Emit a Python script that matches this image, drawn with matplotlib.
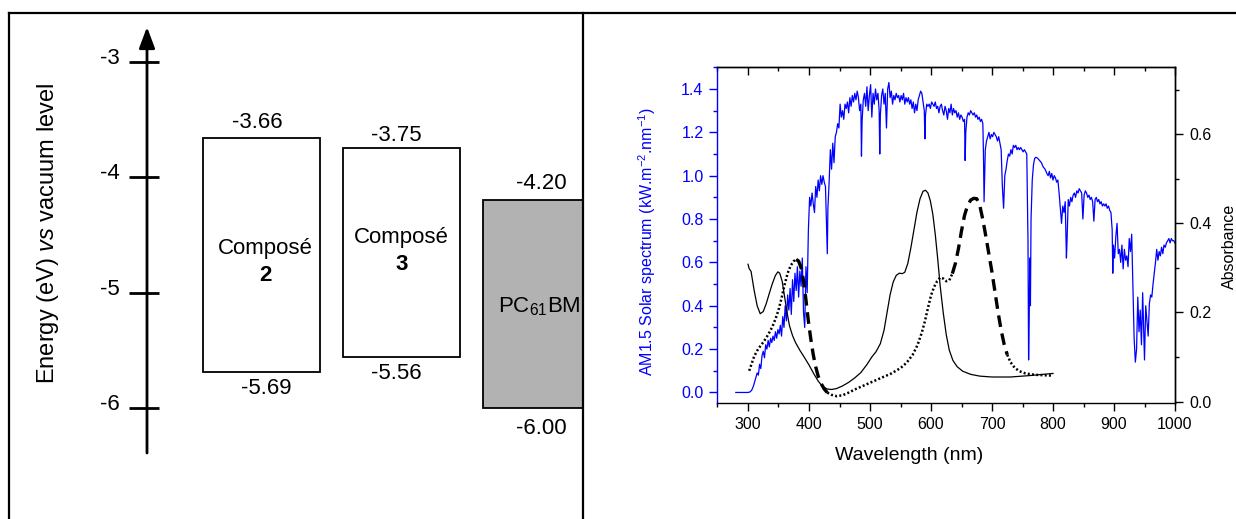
import matplotlib
matplotlib.use('Agg')
import matplotlib.pyplot as plt
from matplotlib.lines import Line2D
from matplotlib.ticker import MultipleLocator, FormatStrFormatter
import numpy as np

plt.rcParams['font.family'] = ['Liberation Sans', 'DejaVu Sans']
plt.rcParams['mathtext.fontset'] = 'custom'
plt.rcParams['mathtext.rm'] = 'Liberation Sans'
plt.rcParams['mathtext.it'] = 'Liberation Sans:italic'
plt.rcParams['mathtext.bf'] = 'Liberation Sans:bold'

# ---------------- data: energy diagram ----------------
material_names = ['Composé', 'Composé', 'PC$_{61}$BM']
material_numbers = ['2', '3', '']
lumo = [-3.66, -3.75, -4.20]
homo = [-5.69, -5.56, -6.00]
box_colors = ['white', 'white', '#b2b2b2']
energy_ticks = [-3, -4, -5, -6]

# ---------------- data: AM1.5 solar spectrum ----------------
solar_nm = [280, 290, 300, 303, 306, 309, 312, 315, 317, 319, 321, 323, 325, 327, 329, 331, 333, 335, 337, 339,
            341, 343, 345, 347, 349, 351, 353, 355, 357, 359, 361, 363, 365, 367, 369, 371, 373, 375, 377, 379,
            381, 383, 385, 387, 389, 391, 393, 395, 397, 399, 401, 403, 405, 407, 409, 411, 413, 415, 417, 419,
            421, 423, 425, 427, 429, 430, 431, 433, 435, 437, 439, 441, 443, 445, 447, 449, 451, 453, 455, 457,
            459, 461, 463, 465, 467, 469, 471, 473, 475, 477, 479, 481, 483, 485, 486, 487, 489, 491, 493, 495,
            497, 499, 501, 503, 505, 507, 509, 511, 513, 515, 516, 517, 519, 521, 523, 525, 527, 529, 531, 533,
            535, 537, 539, 541, 543, 545, 547, 549, 551, 553, 555, 557, 559, 561, 563, 565, 567, 569, 571, 573,
            575, 577, 579, 581, 583, 585, 587, 589, 590, 591, 593, 595, 597, 599, 601, 603, 605, 607, 609, 611,
            613, 615, 617, 619, 621, 623, 625, 627, 629, 631, 633, 635, 637, 639, 641, 643, 645, 647, 649, 651,
            653, 655, 656, 657, 659, 661, 663, 665, 667, 669, 671, 673, 675, 677, 679, 681, 683, 685, 686, 687,
            688, 689, 691, 693, 695, 697, 699, 701, 703, 705, 707, 709, 711, 713, 715, 717, 719, 721, 723, 725,
            727, 729, 731, 733, 735, 737, 739, 741, 743, 745, 747, 749, 751, 753, 755, 757, 759, 760, 761, 762,
            763, 764, 766, 768, 770, 772, 775, 778, 781, 784, 787, 790, 792, 794, 796, 798, 800, 802, 804, 806,
            808, 810, 812, 814, 816, 818, 820, 822, 823, 825, 827, 829, 831, 833, 835, 837, 839, 841, 843, 845,
            847, 849, 851, 853, 855, 857, 859, 861, 863, 865, 867, 869, 871, 873, 875, 877, 879, 881, 883, 885,
            887, 889, 891, 893, 895, 897, 898, 899, 901, 903, 905, 907, 909, 911, 913, 915, 917, 919, 921, 923,
            925, 927, 929, 931, 933, 935, 937, 939, 941, 943, 945, 947, 949, 950, 952, 954, 956, 958, 960, 962,
            964, 966, 968, 970, 972, 974, 976, 978, 980, 982, 984, 986, 988, 990, 992, 994, 996, 998, 1000]
solar_kw = [0.0, 0.0, 0.0, 0.002, 0.01, 0.03, 0.06, 0.09, 0.08, 0.13, 0.11, 0.17, 0.19, 0.16, 0.22, 0.20, 0.24, 0.21, 0.25, 0.23,
            0.26, 0.24, 0.28, 0.25, 0.29, 0.27, 0.31, 0.26, 0.35, 0.30, 0.40, 0.33, 0.45, 0.38, 0.48, 0.36, 0.52, 0.42, 0.55, 0.47,
            0.58, 0.44, 0.56, 0.49, 0.62, 0.37, 0.30, 0.58, 0.46, 0.75, 0.90, 0.86, 0.92, 0.87, 0.83, 0.95, 0.90, 0.98, 0.93, 1.00,
            0.96, 1.00, 0.97, 0.95, 0.75, 0.64, 0.85, 0.97, 1.12, 1.03, 1.15, 1.06, 1.18, 1.20, 1.24, 1.22, 1.33, 1.27, 1.30, 1.26,
            1.33, 1.31, 1.34, 1.29, 1.36, 1.32, 1.37, 1.34, 1.38, 1.35, 1.39, 1.36, 1.30, 1.33, 1.09, 1.25, 1.35, 1.38, 1.32, 1.41,
            1.30, 1.37, 1.42, 1.27, 1.38, 1.33, 1.40, 1.35, 1.38, 1.30, 1.10, 1.28, 1.37, 1.40, 1.33, 1.38, 1.22, 1.40, 1.43, 1.36,
            1.39, 1.33, 1.37, 1.35, 1.38, 1.36, 1.37, 1.34, 1.37, 1.35, 1.38, 1.33, 1.36, 1.34, 1.36, 1.33, 1.35, 1.31, 1.34, 1.29,
            1.33, 1.30, 1.35, 1.37, 1.39, 1.38, 1.34, 1.30, 1.17, 1.28, 1.33, 1.32, 1.33, 1.31, 1.34, 1.33, 1.32, 1.34, 1.31, 1.32,
            1.29, 1.32, 1.33, 1.30, 1.28, 1.32, 1.30, 1.26, 1.31, 1.29, 1.33, 1.28, 1.31, 1.29, 1.30, 1.27, 1.29, 1.26, 1.28, 1.27,
            1.25, 1.26, 1.07, 1.20, 1.27, 1.29, 1.28, 1.30, 1.29, 1.28, 1.29, 1.27, 1.28, 1.26, 1.27, 1.25, 1.26, 1.24, 1.10, 0.88,
            1.00, 1.12, 1.16, 1.18, 1.20, 1.17, 1.19, 1.18, 1.20, 1.19, 1.18, 1.16, 1.18, 1.15, 1.12, 0.95, 0.85, 1.00, 1.03, 1.07,
            1.10, 1.09, 1.12, 1.10, 1.14, 1.13, 1.14, 1.12, 1.13, 1.12, 1.13, 1.12, 1.11, 1.12, 1.11, 1.10, 0.70, 0.15, 0.35, 0.62,
            0.40, 0.80, 0.98, 1.05, 1.08, 1.085, 1.08, 1.07, 1.06, 1.04, 1.03, 1.01, 1.00, 1.02, 0.99, 1.01, 0.98, 1.00, 0.99, 0.97,
            0.98, 0.92, 0.85, 0.78, 0.86, 0.83, 0.88, 0.62, 0.70, 0.89, 0.86, 0.90, 0.88, 0.91, 0.92, 0.90, 0.93, 0.92, 0.94, 0.93,
            0.92, 0.80, 0.91, 0.93, 0.92, 0.90, 0.91, 0.89, 0.90, 0.88, 0.79, 0.89, 0.90, 0.88, 0.89, 0.87, 0.88, 0.86, 0.87, 0.86,
            0.87, 0.85, 0.86, 0.84, 0.83, 0.75, 0.55, 0.68, 0.62, 0.72, 0.78, 0.64, 0.66, 0.60, 0.68, 0.57, 0.66, 0.61, 0.63, 0.58,
            0.71, 0.65, 0.73, 0.50, 0.25, 0.14, 0.20, 0.44, 0.28, 0.38, 0.22, 0.46, 0.25, 0.15, 0.40, 0.33, 0.26, 0.41, 0.45, 0.44,
            0.50, 0.55, 0.60, 0.66, 0.61, 0.65, 0.63, 0.67, 0.64, 0.68, 0.67, 0.69, 0.70, 0.71, 0.69, 0.71, 0.70, 0.70, 0.69]

# ---------------- data: absorbance of compounds 2 and 3 ----------------
abs2_nm = [300, 302, 305, 310, 315, 320, 325, 330, 335, 340, 345, 349, 352, 356, 360, 364, 368, 373, 378, 385,
           392, 400, 408, 415, 422, 430, 437, 445, 455, 465, 475, 485, 495, 503, 510, 517, 523, 528, 533, 538,
           543, 548, 553, 557, 562, 567, 572, 577, 582, 587, 591, 595, 599, 603, 607, 611, 615, 620, 625, 630,
           636, 643, 652, 665, 680, 700, 730, 760, 800]
abs2 = [0.308, 0.298, 0.292, 0.250, 0.215, 0.197, 0.202, 0.220, 0.243, 0.265, 0.283, 0.291, 0.288, 0.270, 0.235, 0.200, 0.170, 0.148, 0.132, 0.115,
        0.100, 0.082, 0.062, 0.046, 0.034, 0.028, 0.027, 0.029, 0.035, 0.043, 0.053, 0.065, 0.083, 0.100, 0.112, 0.130, 0.160, 0.200, 0.240, 0.268,
        0.283, 0.288, 0.287, 0.290, 0.310, 0.345, 0.385, 0.425, 0.455, 0.472, 0.474, 0.468, 0.450, 0.420, 0.375, 0.320, 0.260, 0.200, 0.150, 0.115,
        0.092, 0.078, 0.068, 0.061, 0.057, 0.055, 0.055, 0.058, 0.063]

abs3_nm = [302, 306, 310, 315, 320, 325, 330, 335, 340, 345, 350, 355, 360, 365, 370, 375, 379, 383, 387, 391,
           395, 399, 403, 407, 411, 415, 420, 425, 430, 437, 445, 455, 465, 475, 490, 505, 520, 535, 550, 560,
           570, 578, 585, 590, 595, 600, 605, 610, 615, 620, 625, 630, 635, 640, 645, 650, 655, 660, 665, 670,
           675, 680, 685, 690, 695, 700, 705, 710, 715, 720, 725, 730, 737, 745, 755, 770, 785, 800]
abs3 = [0.069, 0.085, 0.101, 0.114, 0.124, 0.133, 0.143, 0.155, 0.168, 0.185, 0.205, 0.232, 0.262, 0.288, 0.305, 0.315, 0.319, 0.315, 0.300, 0.272,
        0.228, 0.180, 0.140, 0.105, 0.078, 0.057, 0.040, 0.028, 0.020, 0.015, 0.012, 0.014, 0.020, 0.027, 0.036, 0.045, 0.054, 0.063, 0.075, 0.087,
        0.105, 0.127, 0.155, 0.180, 0.210, 0.238, 0.257, 0.270, 0.278, 0.276, 0.270, 0.272, 0.287, 0.310, 0.343, 0.383, 0.418, 0.440, 0.452, 0.456,
        0.455, 0.440, 0.408, 0.370, 0.330, 0.290, 0.245, 0.200, 0.160, 0.128, 0.105, 0.089, 0.076, 0.068, 0.063, 0.060, 0.059, 0.058]
# wavelength windows where the dotted curve is rendered as long dashes
dash_windows = [(379, 425), (635, 720)]

# ---------------- figure ----------------
W, H = 1236, 519
fig = plt.figure(figsize=(W / 100, H / 100), dpi=100)

# --- left panel: energy diagram ---
px_per_ev = 115.5
y_m3 = 61.7          # pixel row of -3 eV
x0 = 261.5           # pixel column of first box centre
unit = 140.0         # pixels per box slot
axL = fig.add_axes([10 / W, 0, (583 - 10) / W, 1])
axL.set_xlim((10 - x0) / unit, (583 - x0) / unit)
axL.set_ylim(-3 - (H - y_m3) / px_per_ev, -3 + y_m3 / px_per_ev)
axL.axis('off')

pos = np.arange(len(lumo))
heights = [l - h for l, h in zip(lumo, homo)]
axL.bar(pos, heights, bottom=homo, width=117 / unit, color=box_colors,
        edgecolor='black', linewidth=1.3, zorder=2)

axis_x = (147 - x0) / unit
y_bot = -3 - (453 - y_m3) / px_per_ev
y_tip = -3 + (y_m3 - 27) / px_per_ev
axL.annotate('', xy=(axis_x, y_tip), xytext=(axis_x, y_bot),
             arrowprops=dict(arrowstyle='-|>,head_length=0.8,head_width=0.3', lw=2.0,
                             color='black', shrinkA=0, shrinkB=0, mutation_scale=16))
for e in energy_ticks:
    axL.plot([axis_x - 18 / unit, axis_x + 12 / unit], [e, e], color='black', lw=2.0,
             solid_capstyle='butt')
    axL.text((120 - x0) / unit, e + 0.03, f'{e}', ha='right', va='center', fontsize=16)

axL.text((48 - x0) / unit, -4.483, 'Energy (eV) $\\mathit{vs}$ vacuum level', rotation=90,
         ha='center', va='center', fontsize=17)

top_dx = [-4, -5, 0]
top_dy = [15, 13, 17]
bot_dx = [5, -5, 0]
bot_dy = [16, 16, 20]
for i in range(len(lumo)):
    axL.annotate(f'{lumo[i]:.2f}', xy=(pos[i], lumo[i]), xytext=(top_dx[i], top_dy[i]),
                 textcoords='offset pixels', ha='center', va='center', fontsize=16)
    axL.annotate(f'{homo[i]:.2f}', xy=(pos[i], homo[i]), xytext=(bot_dx[i], -bot_dy[i]),
                 textcoords='offset pixels', ha='center', va='center', fontsize=16)

name_dx = [4, 0, -2]
name_y = [-4.613, -4.518, -5.124]
num_y = [-4.855, -4.752, None]
for i in range(len(lumo)):
    xc = pos[i] + name_dx[i] / unit
    axL.text(xc, name_y[i], material_names[i], ha='center', va='center', fontsize=16, zorder=3)
    if material_numbers[i]:
        axL.text(xc, num_y[i], material_numbers[i], ha='center', va='center', fontsize=16,
                 fontweight='bold', zorder=3)

# --- right panel: spectra ---
tick_fs = 11.5
axR = fig.add_axes([717.5 / W, (H - 403.3) / H, (1175 - 717.5) / W, (403.3 - 67.3) / H])
axR.plot(solar_nm, solar_kw, color='#0000ff', lw=0.9, zorder=2)
axR.set_xlim(250, 1000)
axR.set_ylim(-0.05, 1.5)
axR.set_xticks([300, 400, 500, 600, 700, 800, 900, 1000])
axR.xaxis.set_minor_locator(MultipleLocator(50))
axR.yaxis.set_major_locator(MultipleLocator(0.2))
axR.yaxis.set_minor_locator(MultipleLocator(0.1))
axR.yaxis.set_major_formatter(FormatStrFormatter('%.1f'))
axR.tick_params(axis='x', which='major', direction='out', length=6, width=1, labelsize=tick_fs, pad=4)
axR.tick_params(axis='x', which='minor', direction='out', length=3, width=1)
axR.tick_params(axis='y', which='major', direction='out', length=6, width=1, colors='#0000ff',
                labelsize=tick_fs, pad=4)
axR.tick_params(axis='y', which='minor', direction='out', length=3, width=1, colors='#0000ff')
axR.spines['left'].set_color('#0000ff')
for s in axR.spines.values():
    s.set_linewidth(1.0)
axR.set_xlabel('Wavelength (nm)', fontsize=14)
axR.xaxis.set_label_coords(0.419, -0.129)
axR.set_ylabel('AM1.5 Solar spectrum (kW.m$^{-2}$.nm$^{-1}$)', color='#0000ff', fontsize=11.5)
axR.yaxis.set_label_coords(-0.130, 0.48)

top = axR.secondary_xaxis('top')
top.set_xticks([300, 400, 500, 600, 700, 800, 900, 1000])
top.xaxis.set_minor_locator(MultipleLocator(50))
top.tick_params(which='major', direction='in', length=6, width=1, labeltop=False)
top.tick_params(which='minor', direction='in', length=3, width=1)
top.spines['top'].set_linewidth(1.0)

ax2 = axR.twinx()
ax2.set_ylim(-0.004, 0.75)
ax2.yaxis.set_major_locator(MultipleLocator(0.2))
ax2.yaxis.set_minor_locator(MultipleLocator(0.1))
ax2.yaxis.set_major_formatter(FormatStrFormatter('%.1f'))
ax2.tick_params(axis='y', which='major', direction='out', length=6, width=1, labelsize=tick_fs, pad=4)
ax2.tick_params(axis='y', which='minor', direction='out', length=3, width=1)
for side in ['left', 'top', 'bottom']:
    ax2.spines[side].set_visible(False)
ax2.spines['right'].set_linewidth(1.0)
ax2.set_ylabel('Absorbance', fontsize=11.5)
ax2.yaxis.set_label_coords(1.1035, 0.467)

ax2.plot(abs2_nm, abs2, color='black', lw=0.9)

a3x = np.array(abs3_nm)
a3y = np.array(abs3)
in_dash = np.zeros(len(a3x), dtype=bool)
for lo, hi in dash_windows:
    in_dash |= (a3x >= lo) & (a3x <= hi)
# draw contiguous runs, sharing boundary points
start = 0
for k in range(1, len(a3x) + 1):
    if k == len(a3x) or in_dash[k] != in_dash[start]:
        end = min(k + 1, len(a3x))
        seg = slice(start, end)
        if in_dash[start]:
            ax2.plot(a3x[seg], a3y[seg], color='black', lw=2.4, linestyle=(0, (3.5, 2.0)))
        else:
            ax2.plot(a3x[seg], a3y[seg], color='black', lw=1.8, linestyle=(0, (0.8, 0.9)))
        start = k

# --- outer frame ---
lw_frame = 1.6
fig.add_artist(Line2D([8.5 / W, 1.0], [1 - 12.5 / H, 1 - 12.5 / H], transform=fig.transFigure,
                      color='black', lw=lw_frame))
fig.add_artist(Line2D([8.5 / W, 8.5 / W], [0, 1 - 12.5 / H], transform=fig.transFigure,
                      color='black', lw=lw_frame))
fig.add_artist(Line2D([582.7 / W, 582.7 / W], [0, 1 - 12.5 / H], transform=fig.transFigure,
                      color='black', lw=lw_frame))

fig.savefig('out.png', dpi=100)
